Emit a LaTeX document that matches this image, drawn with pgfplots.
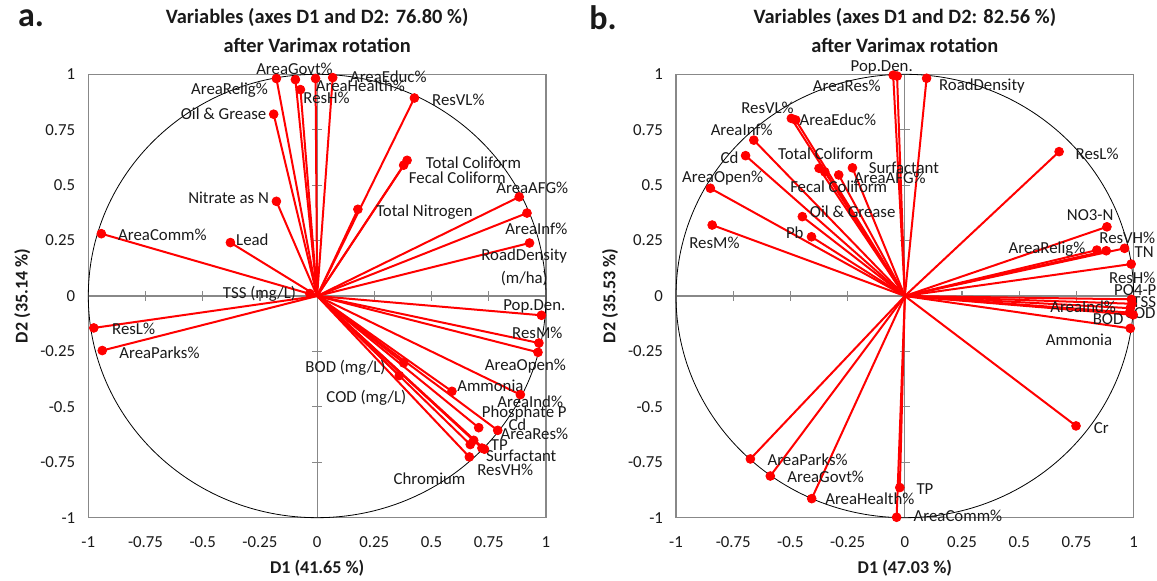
\documentclass[border=0pt]{standalone}
\usepackage{fontspec}
\setmainfont{Carlito}
\usepackage{pgfplots}
\usepackage{pgfplotstable}
\pgfplotsset{compat=1.18}

\definecolor{framegray}{HTML}{888888}
\definecolor{txt}{HTML}{1A1A1A}
\newcommand\lbl{\fontsize{8.4}{9.6}\selectfont}

% loadings, varimax rotated: D1 D2
\pgfplotstableread{
x y
-0.178 0.981
-0.095 0.976
-0.073 0.931
-0.007 0.981
0.068 0.985
-0.190 0.820
-0.178 0.427
-0.943 0.281
-0.379 0.241
0.425 0.893
0.393 0.612
0.378 0.590
0.178 0.391
0.883 0.447
0.917 0.374
0.928 0.239
-0.032 0.011
-0.976 -0.144
-0.939 -0.246
0.980 -0.087
0.969 -0.212
0.965 -0.254
0.378 -0.302
0.359 -0.359
0.589 -0.430
0.888 -0.445
0.706 -0.594
0.789 -0.606
0.684 -0.651
0.669 -0.670
0.720 -0.686
0.731 -0.691
0.665 -0.726
}\dataA

\pgfplotstableread{
x y
-0.051 0.996
-0.034 0.992
0.095 0.982
-0.496 0.801
-0.477 0.794
-0.660 0.703
-0.696 0.633
-0.375 0.576
-0.350 0.560
-0.289 0.546
-0.229 0.578
-0.850 0.486
-0.448 0.358
-0.408 0.267
-0.842 0.320
0.674 0.651
0.883 0.312
0.839 0.207
0.880 0.204
0.960 0.215
0.989 0.144
0.990 -0.015
0.992 -0.035
0.985 -0.055
0.982 -0.075
0.998 -0.085
0.985 -0.146
0.748 -0.586
-0.675 -0.735
-0.588 -0.812
-0.407 -0.914
-0.022 -0.864
-0.036 -0.998
}\dataB

\pgfplotsset{pca/.style={
  scale only axis, width=228.85pt, height=221.7pt,
  xmin=-1, xmax=1, ymin=-1, ymax=1,
  xtick={-1,-0.75,-0.5,-0.25,0,0.25,0.5,0.75,1},
  ytick={-1,-0.75,-0.5,-0.25,0,0.25,0.5,0.75,1},
  major tick length=0pt,
  axis line style={draw=framegray, line width=0.6pt},
  tick label style={font=\lbl, text=txt},
  xticklabel style={yshift=-6pt},
  yticklabel style={xshift=-3pt},
  /pgf/number format/assume math mode=true,
  clip=false,
  anchor=north west,
}}

\newcommand\centerlines{%
  \draw[framegray, line width=0.6pt] (axis cs:-1,0) -- (axis cs:1,0);
  \draw[framegray, line width=0.6pt] (axis cs:0,-1) -- (axis cs:0,1);
  \pgfplotsinvokeforeach{-0.75,-0.5,-0.25,0.25,0.5,0.75}{
    \draw[framegray, line width=0.6pt] ([yshift=-2.5pt]axis cs:##1,0) -- ([yshift=2.5pt]axis cs:##1,0);
    \draw[framegray, line width=0.6pt] ([xshift=-2.5pt]axis cs:0,##1) -- ([xshift=2.5pt]axis cs:0,##1);
  }
  \draw[black, line width=0.4pt] (axis cs:0,0) ellipse [x radius=1, y radius=1];
}

\begin{document}
\begin{tikzpicture}
\useasboundingbox (0,0) rectangle (578.5pt,-290.5pt);

\node[font=\bfseries\fontsize{17}{20}\selectfont, text=txt] at (15.5pt,-9pt) {a.};
\node[font=\bfseries\fontsize{17}{20}\selectfont, text=txt] at (301.5pt,-9pt) {b.};

% ---------- a ----------
\begin{axis}[pca, at={(44.15pt,-37.15pt)}]
\centerlines
\addplot[red, line width=1pt, quiver={u=\thisrow{x}, v=\thisrow{y}}]
  table[x expr=0, y expr=0] {\dataA};
\addplot[only marks, mark=*, mark size=2.2pt, red] table[x=x, y=y] {\dataA};

\begin{scope}[every node/.style={font=\lbl, text=txt, inner sep=0pt}]
\node at (axis cs:-0.099,1.023) {AreaGovt\%};
\node at (axis cs:-0.383,0.928) {AreaRelig\%};
\node at (axis cs:-0.409,0.820) {Oil \& Grease};
\node at (axis cs:0.041,0.892) {ResH\%};
\node at (axis cs:0.189,0.950) {AreaHealth\%};
\node at (axis cs:0.311,0.987) {AreaEduc\%};
\node at (axis cs:-0.387,0.445) {Nitrate as N};
\node at (axis cs:-0.676,0.278) {AreaComm\%};
\node at (axis cs:-0.283,0.256) {Lead};
\node at (axis cs:0.617,0.887) {ResVL\%};
\node at (axis cs:0.683,0.599) {Total Coliform};
\node at (axis cs:0.613,0.535) {Fecal Coliform};
\node at (axis cs:0.940,0.486) {AreaAFG\%};
\node at (axis cs:0.469,0.378) {Total Nitrogen};
\node at (axis cs:0.958,0.301) {AreaInf\%};
\node[align=center] at (axis cs:0.905,0.129) {RoadDensity\\[2pt](m/ha)};
\node at (axis cs:-0.252,0.012) {TSS (mg/L)};
\node at (axis cs:-0.802,-0.150) {ResL\%};
\node at (axis cs:-0.689,-0.254) {AreaParks\%};
\node at (axis cs:0.949,-0.046) {Pop.Den.};
\node at (axis cs:0.962,-0.164) {ResM\%};
\node at (axis cs:0.910,-0.317) {AreaOpen\%};
\node at (axis cs:0.124,-0.322) {BOD (mg/L)};
\node at (axis cs:0.215,-0.457) {COD (mg/L)};
\node at (axis cs:0.757,-0.403) {Ammonia};
\node at (axis cs:0.931,-0.479) {AreaInd\%};
\node at (axis cs:0.905,-0.529) {Phosphate P};
\node at (axis cs:0.875,-0.579) {Cd};
\node at (axis cs:0.949,-0.624) {AreaRes\%};
\node at (axis cs:0.796,-0.673) {TP};
\node at (axis cs:0.892,-0.723) {Surfactant};
\node at (axis cs:0.822,-0.786) {ResVH\%};
\node at (axis cs:0.491,-0.822) {Chromium};
\end{scope}

\node[font=\bfseries\fontsize{10.2}{12}\selectfont, text=txt] at ([yshift=28.6pt]rel axis cs:0.5,1) {Variables (axes D1 and D2: 76.80 \%)};
\node[font=\bfseries\fontsize{10.2}{12}\selectfont, text=txt] at ([yshift=14.2pt]rel axis cs:0.5,1) {after Varimax rotation};
\node[font=\bfseries\fontsize{9}{11}\selectfont, text=txt] at ([yshift=-25pt]rel axis cs:0.5,0) {D1 (41.65 \%)};
\node[font=\bfseries\fontsize{9}{11}\selectfont, text=txt, rotate=90] at ([xshift=-33pt]rel axis cs:0,0.5) {D2 (35.14 \%)};
\end{axis}

% ---------- b ----------
\begin{axis}[pca, at={(338pt,-37.15pt)}]
\centerlines
\addplot[red, line width=1pt, quiver={u=\thisrow{x}, v=\thisrow{y}}]
  table[x expr=0, y expr=0] {\dataB};
\addplot[only marks, mark=*, mark size=2.2pt, red] table[x=x, y=y] {\dataB};

\begin{scope}[every node/.style={font=\lbl, text=txt, inner sep=0pt}]
\node at (axis cs:-0.101,1.032) {Pop.Den.};
\node at (axis cs:-0.254,0.947) {AreaRes\%};
\node at (axis cs:0.337,0.947) {RoadDensity};
\node at (axis cs:-0.600,0.848) {ResVL\%};
\node at (axis cs:-0.293,0.794) {AreaEduc\%};
\node at (axis cs:-0.713,0.748) {AreaInf\%};
\node at (axis cs:-0.766,0.622) {Cd};
\node at (axis cs:-0.346,0.640) {Total Coliform};
\node at (axis cs:-0.289,0.491) {Fecal Coliform};
\node at (axis cs:-0.066,0.532) {AreaAFG\%};
\node at (axis cs:-0.004,0.577) {Surfactant};
\node at (axis cs:-0.796,0.532) {AreaOpen\%};
\node at (axis cs:-0.228,0.379) {Oil \& Grease};
\node at (axis cs:-0.481,0.284) {Pb};
\node at (axis cs:-0.832,0.239) {ResM\%};
\node at (axis cs:0.840,0.640) {ResL\%};
\node at (axis cs:0.810,0.365) {NO3-N};
\node at (axis cs:0.621,0.212) {AreaRelig\%};
\node at (axis cs:0.972,0.261) {ResVH\%};
\node at (axis cs:1.046,0.198) {TN};
\node at (axis cs:0.994,0.081) {ResH\%};
\node at (axis cs:1.007,0.027) {PO4-P};
\node at (axis cs:1.046,-0.027) {TSS};
\node at (axis cs:0.779,-0.050) {AreaInd\%};
\node at (axis cs:0.888,-0.104) {BOD};
\node at (axis cs:1.029,-0.077) {COD};
\node at (axis cs:0.761,-0.198) {Ammonia};
\node at (axis cs:0.858,-0.595) {Cr};
\node at (axis cs:-0.425,-0.739) {AreaParks\%};
\node at (axis cs:-0.346,-0.816) {AreaGovt\%};
\node at (axis cs:-0.153,-0.915) {AreaHealth\%};
\node at (axis cs:0.088,-0.870) {TP};
\node at (axis cs:0.232,-0.992) {AreaComm\%};
\end{scope}

\node[font=\bfseries\fontsize{10.2}{12}\selectfont, text=txt] at ([yshift=28.6pt]rel axis cs:0.5,1) {Variables (axes D1 and D2: 82.56 \%)};
\node[font=\bfseries\fontsize{10.2}{12}\selectfont, text=txt] at ([yshift=14.2pt]rel axis cs:0.5,1) {after Varimax rotation};
\node[font=\bfseries\fontsize{9}{11}\selectfont, text=txt] at ([yshift=-25pt]rel axis cs:0.5,0) {D1 (47.03 \%)};
\node[font=\bfseries\fontsize{9}{11}\selectfont, text=txt, rotate=90] at ([xshift=-33pt]rel axis cs:0,0.5) {D2 (35.53 \%)};
\end{axis}
\end{tikzpicture}
\end{document}
